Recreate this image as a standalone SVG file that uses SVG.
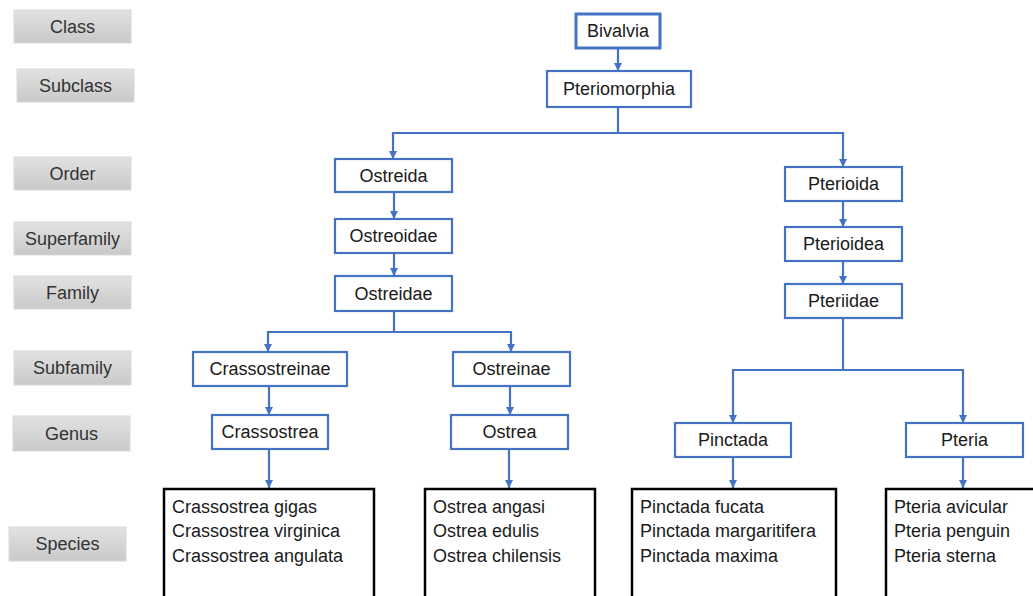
<svg xmlns="http://www.w3.org/2000/svg" width="1033" height="596" viewBox="0 0 1033 596">
<style>
.rank rect{fill:url(#g);stroke:#d9d9d9;stroke-width:1}
.rank text{font-family:"Liberation Sans",Arial,sans-serif;font-size:18px;fill:#333;text-anchor:middle;dominant-baseline:central}
.n rect{fill:#fff;stroke:#4472c4;stroke-width:2.2}
.n text{font-family:"Liberation Sans",Arial,sans-serif;font-size:18px;fill:#1a1a1a;text-anchor:middle;dominant-baseline:central}
.sp rect{fill:#fff;stroke:#000;stroke-width:2.5}
.sp text{font-family:"Liberation Sans",Arial,sans-serif;font-size:18px;fill:#1a1a1a}
#conn path{fill:none;stroke:#4472c4;stroke-width:2.2;marker-end:url(#a)}
</style>
<defs>
<linearGradient id="g" x1="0" y1="0" x2="0" y2="1"><stop offset="0" stop-color="#e2e2e2"/><stop offset="1" stop-color="#c9c9c9"/></linearGradient>
<marker id="a" markerWidth="8" markerHeight="8" refX="8" refY="4" orient="auto" markerUnits="userSpaceOnUse" viewBox="0 0 8 8"><path d="M0,0 L8,4 L0,8 z" fill="#4472c4"/></marker>
</defs>
<rect width="1033" height="596" fill="#fff"/>
<g id="ranks">
<g id="r-class" class="rank"><rect x="14" y="10" width="117" height="33"/><text x="72.5" y="26.5">Class</text></g>
<g id="r-subclass" class="rank"><rect x="17" y="69" width="117" height="33"/><text x="75.5" y="85.5">Subclass</text></g>
<g id="r-order" class="rank"><rect x="14" y="157" width="117" height="33"/><text x="72.5" y="173.5">Order</text></g>
<g id="r-superfamily" class="rank"><rect x="14" y="222" width="117" height="33"/><text x="72.5" y="238.5">Superfamily</text></g>
<g id="r-family" class="rank"><rect x="14" y="276" width="117" height="33"/><text x="72.5" y="292.5">Family</text></g>
<g id="r-subfamily" class="rank"><rect x="14" y="351" width="117" height="34"/><text x="72.5" y="368">Subfamily</text></g>
<g id="r-genus" class="rank"><rect x="13" y="416" width="117" height="35"/><text x="71.5" y="433.5">Genus</text></g>
<g id="r-species" class="rank"><rect x="9" y="527" width="117" height="34"/><text x="67.5" y="544">Species</text></g>
</g>
<g id="conn">
<path d="M618,48 V71"/>
<path d="M618,107 V133 H393 V159"/>
<path d="M618,133 H843 V167"/>
<path d="M394,192 V219"/>
<path d="M394,253 V276"/>
<path d="M394,311 V332 H268 V352"/>
<path d="M394,332 H511 V352"/>
<path d="M269,386 V415"/>
<path d="M510,386 V415"/>
<path d="M843,201 V227"/>
<path d="M843,261 V284"/>
<path d="M843,318 V370 H733 V423"/>
<path d="M843,370 H963 V423"/>
<path d="M269,449 V488"/>
<path d="M509,449 V488"/>
<path d="M733,457 V488"/>
<path d="M963,457 V488"/>
</g>
<g id="n-bivalvia" class="n"><rect x="576" y="14" width="84" height="34" style="stroke-width:3"/><text x="618" y="31">Bivalvia</text></g>
<g id="n-pteriomorphia" class="n"><rect x="547" y="71" width="144" height="36"/><text x="619" y="89">Pteriomorphia</text></g>
<g id="n-ostreida" class="n"><rect x="335" y="159" width="117" height="33"/><text x="393.5" y="175.5">Ostreida</text></g>
<g id="n-ostreoidae" class="n"><rect x="335" y="219" width="117" height="34"/><text x="393.5" y="236">Ostreoidae</text></g>
<g id="n-ostreidae" class="n"><rect x="335" y="276" width="117" height="35"/><text x="393.5" y="293.5">Ostreidae</text></g>
<g id="n-crassostreinae" class="n"><rect x="193" y="352" width="154" height="34"/><text x="270" y="369">Crassostreinae</text></g>
<g id="n-ostreinae" class="n"><rect x="453" y="352" width="117" height="34"/><text x="511.5" y="369">Ostreinae</text></g>
<g id="n-crassostrea" class="n"><rect x="212" y="415" width="116" height="34"/><text x="270" y="432">Crassostrea</text></g>
<g id="n-ostrea" class="n"><rect x="451" y="415" width="117" height="34"/><text x="509.5" y="432">Ostrea</text></g>
<g id="n-pterioida" class="n"><rect x="785" y="167" width="117" height="34"/><text x="843.5" y="184">Pterioida</text></g>
<g id="n-pterioidea" class="n"><rect x="785" y="227" width="117" height="34"/><text x="843.5" y="244">Pterioidea</text></g>
<g id="n-pteriidae" class="n"><rect x="785" y="284" width="117" height="34"/><text x="843.5" y="301">Pteriidae</text></g>
<g id="n-pinctada" class="n"><rect x="675" y="423" width="116" height="34"/><text x="733" y="440">Pinctada</text></g>
<g id="n-pteria" class="n"><rect x="906" y="423" width="117" height="34"/><text x="964.5" y="440">Pteria</text></g>
<g id="s-crassostrea" class="sp"><rect x="164" y="489" width="210" height="120"/><text x="172" y="513">Crassostrea gigas</text><text x="172" y="537">Crassostrea virginica</text><text x="172" y="562">Crassostrea angulata</text></g>
<g id="s-ostrea" class="sp"><rect x="425" y="489" width="170" height="120"/><text x="433" y="513">Ostrea angasi</text><text x="433" y="537">Ostrea edulis</text><text x="433" y="562">Ostrea chilensis</text></g>
<g id="s-pinctada" class="sp"><rect x="632" y="489" width="204" height="120"/><text x="640" y="513">Pinctada fucata</text><text x="640" y="537">Pinctada margaritifera</text><text x="640" y="562">Pinctada maxima</text></g>
<g id="s-pteria" class="sp"><rect x="886" y="489" width="170" height="120"/><text x="894" y="513">Pteria avicular</text><text x="894" y="537">Pteria penguin</text><text x="894" y="562">Pteria sterna</text></g>
</svg>
